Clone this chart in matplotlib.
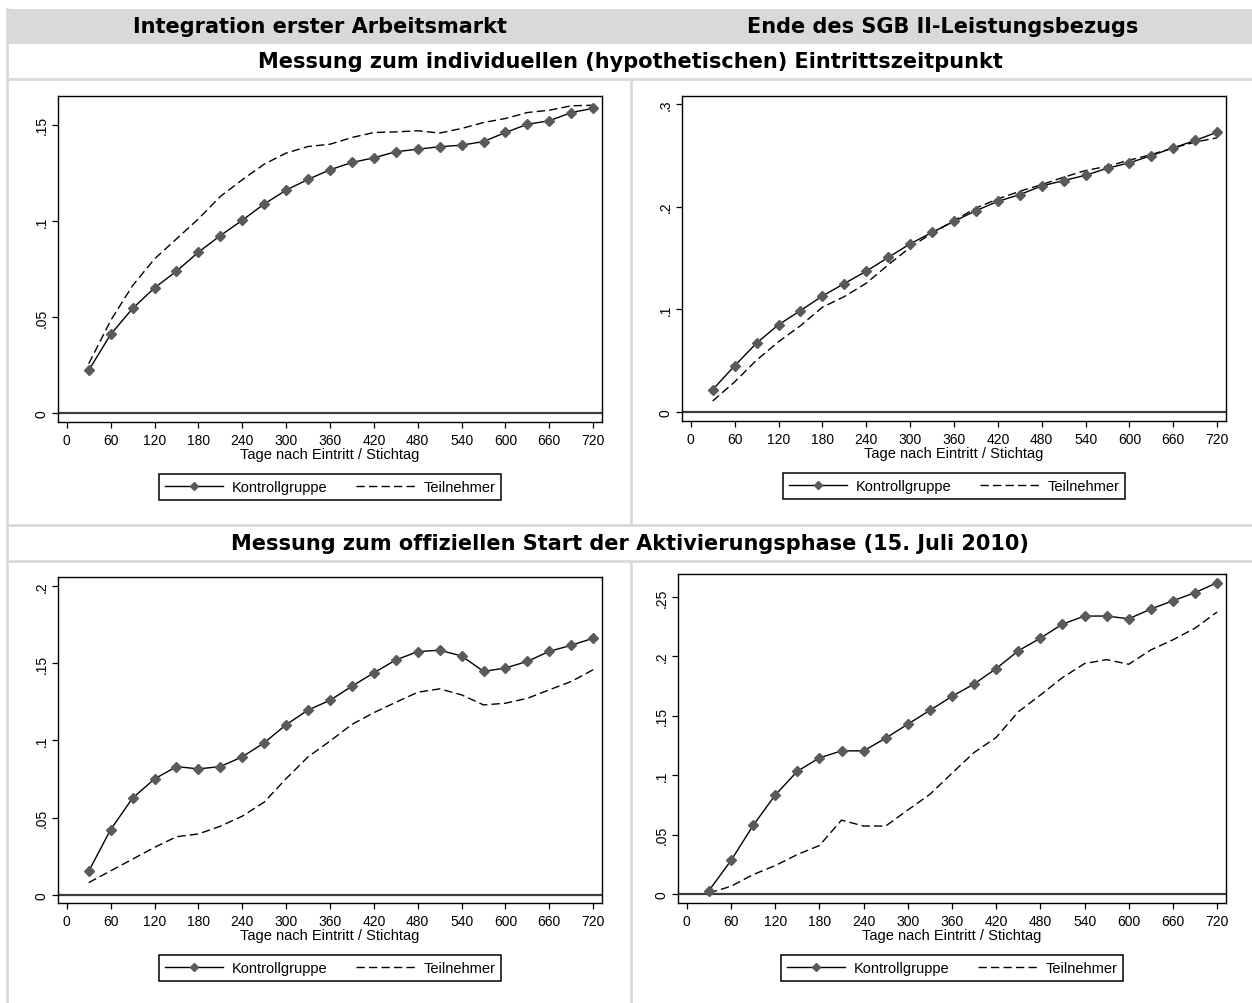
import matplotlib
matplotlib.use("Agg")
import matplotlib.pyplot as plt
from matplotlib.lines import Line2D
from matplotlib.patches import Rectangle

# x-Achse: Tage nach Eintritt / Stichtag
days = list(range(30, 721, 30))

# Messung zum individuellen (hypothetischen) Eintrittszeitpunkt
arbeit_ind_kontroll = [0.0222, 0.0409, 0.0544, 0.0651, 0.0738, 0.0837, 0.0923, 0.1003,
                       0.1088, 0.1160, 0.1216, 0.1266, 0.1304, 0.1328, 0.1360, 0.1373,
                       0.1386, 0.1394, 0.1413, 0.1460, 0.1503, 0.1521, 0.1564, 0.1586]
arbeit_ind_teiln = [0.0256, 0.0481, 0.0663, 0.0802, 0.0906, 0.1010, 0.1127, 0.1214,
                    0.1295, 0.1353, 0.1387, 0.1399, 0.1434, 0.1460, 0.1463, 0.1469,
                    0.1457, 0.1481, 0.1512, 0.1533, 0.1564, 0.1576, 0.1599, 0.1602]
sgb_ind_kontroll = [0.0218, 0.0450, 0.0671, 0.0850, 0.0987, 0.1130, 0.1251, 0.1371,
                    0.1505, 0.1638, 0.1749, 0.1857, 0.1961, 0.2052, 0.2117, 0.2202,
                    0.2254, 0.2306, 0.2375, 0.2427, 0.2498, 0.2573, 0.2645, 0.2726]
sgb_ind_teiln = [0.0107, 0.0293, 0.0505, 0.0684, 0.0840, 0.1020, 0.1124, 0.1254,
                 0.1433, 0.1603, 0.1743, 0.1863, 0.1987, 0.2075, 0.2150, 0.2215,
                 0.2287, 0.2352, 0.2394, 0.2453, 0.2508, 0.2573, 0.2629, 0.2671]

# Messung zum offiziellen Start der Aktivierungsphase
arbeit_off_kontroll = [0.0154, 0.0423, 0.0627, 0.0751, 0.0831, 0.0816, 0.0831, 0.0894,
                       0.0985, 0.1102, 0.1197, 0.1260, 0.1351, 0.1438, 0.1521, 0.1575,
                       0.1584, 0.1547, 0.1447, 0.1469, 0.1512, 0.1577, 0.1616, 0.1662]
arbeit_off_teiln = [0.0080, 0.0156, 0.0232, 0.0308, 0.0377, 0.0395, 0.0445, 0.0510,
                    0.0601, 0.0753, 0.0894, 0.0996, 0.1104, 0.1180, 0.1247, 0.1312,
                    0.1334, 0.1295, 0.1230, 0.1241, 0.1273, 0.1328, 0.1382, 0.1458]
sgb_off_kontroll = [0.0028, 0.0282, 0.0577, 0.0833, 0.1033, 0.1146, 0.1205, 0.1205,
                    0.1312, 0.1430, 0.1546, 0.1664, 0.1768, 0.1898, 0.2047, 0.2154,
                    0.2272, 0.2340, 0.2340, 0.2317, 0.2399, 0.2469, 0.2537, 0.2621]
sgb_off_teiln = [0.0008, 0.0065, 0.0163, 0.0239, 0.0332, 0.0408, 0.0622, 0.0572,
                 0.0572, 0.0707, 0.0839, 0.1017, 0.1191, 0.1318, 0.1534, 0.1675,
                 0.1822, 0.1940, 0.1973, 0.1934, 0.2055, 0.2140, 0.2238, 0.2374]

xticks = list(range(0, 721, 60))
yticks_a = [0, 0.05, 0.1, 0.15]
ylabels_a = ["0", ".05", ".1", ".15"]
yticks_b = [0, 0.1, 0.2, 0.3]
ylabels_b = ["0", ".1", ".2", ".3"]
yticks_c = [0, 0.05, 0.1, 0.15, 0.2]
ylabels_c = ["0", ".05", ".1", ".15", ".2"]
yticks_d = [0, 0.05, 0.1, 0.15, 0.2, 0.25]
ylabels_d = ["0", ".05", ".1", ".15", ".2", ".25"]

W, H = 1252, 1004
fig = plt.figure(figsize=(W / 100, H / 100), dpi=100)
fig.patch.set_facecolor("white")


def fx(x):
    return x / W


def fy(y):
    return 1 - y / H


GRID = "#d9d9d9"

# Tabellenrahmen
fig.add_artist(Rectangle((fx(7), fy(45)), fx(1252) - fx(7), fy(10) - fy(45),
                         transform=fig.transFigure, facecolor=GRID, edgecolor="none"))
for (x0, y0, x1, y1) in [(7, 10, 7, 1004), (7, 80, 1252, 80), (7, 526, 1252, 526),
                         (7, 562, 1252, 562), (631, 80, 631, 526), (631, 562, 631, 1004)]:
    fig.add_artist(Line2D([fx(x0), fx(x1)], [fy(y0), fy(y1)], transform=fig.transFigure,
                          color=GRID, lw=2))

head = dict(ha="center", va="center", fontsize=15, fontweight="bold",
            family="DejaVu Sans", color="black")
fig.text(fx(320), fy(27), "Integration erster Arbeitsmarkt", **head)
fig.text(fx(943), fy(27), "Ende des SGB II-Leistungsbezugs", **head)
fig.text(fx(630), fy(62), "Messung zum individuellen (hypothetischen) Eintrittszeitpunkt", **head)
fig.text(fx(630), fy(544), "Messung zum offiziellen Start der Aktivierungsphase (15. Juli 2010)", **head)

plt.rcParams["font.family"] = ["Liberation Sans", "DejaVu Sans"]

panels = [
    ((58, 97, 602, 423), (-0.0047, 0.165), yticks_a, ylabels_a, arbeit_ind_kontroll, arbeit_ind_teiln),
    ((682, 97, 1226, 422), (-0.0088, 0.3078), yticks_b, ylabels_b, sgb_ind_kontroll, sgb_ind_teiln),
    ((58, 578, 602, 904), (-0.0052, 0.2058), yticks_c, ylabels_c, arbeit_off_kontroll, arbeit_off_teiln),
    ((678, 575, 1226, 904), (-0.0076, 0.2694), yticks_d, ylabels_d, sgb_off_kontroll, sgb_off_teiln),
]

for (l, t, r, b), ylim, yt, yl, kontroll, teiln in panels:
    ax = fig.add_axes([fx(l), fy(b), fx(r) - fx(l), fy(t) - fy(b)])
    ax.axhline(0, color="#3c3c3c", lw=1.6, zorder=1)
    ax.plot(days, kontroll, color="black", lw=1.0, marker="D", markersize=5.5,
            markerfacecolor="#5a5a5a", markeredgecolor="#5a5a5a", label="Kontrollgruppe", zorder=3)
    ax.plot(days, teiln, color="black", lw=1.0, dashes=(6, 3), label="Teilnehmer", zorder=2)
    ax.set_xlim(-12, 732)
    ax.set_ylim(*ylim)
    ax.set_xticks(xticks)
    ax.set_yticks(yt)
    ax.set_yticklabels(yl)
    for lab in ax.get_yticklabels():
        lab.set_rotation(90)
        lab.set_va("center")
    for sp in ax.spines.values():
        sp.set_linewidth(1.0)
        sp.set_color("black")
    ax.tick_params(direction="out", length=4, width=0.9, labelsize=10, colors="black", pad=3)
    ax.tick_params(axis="x", pad=4)
    ax.set_xlabel("Tage nach Eintritt / Stichtag", fontsize=10.5, labelpad=0)
    # Legende zentriert ca. 65 px unter der Achse
    leg = ax.legend(loc="center", bbox_to_anchor=(0.5, -65 / (b - t)), ncol=2,
                    fontsize=10.5, handlelength=4.0, handletextpad=0.6, columnspacing=2.0,
                    borderpad=0.4, markerscale=0.7, fancybox=False, framealpha=1,
                    edgecolor="black")
    leg.get_frame().set_linewidth(1.1)

fig.savefig("out.png", dpi=100)
